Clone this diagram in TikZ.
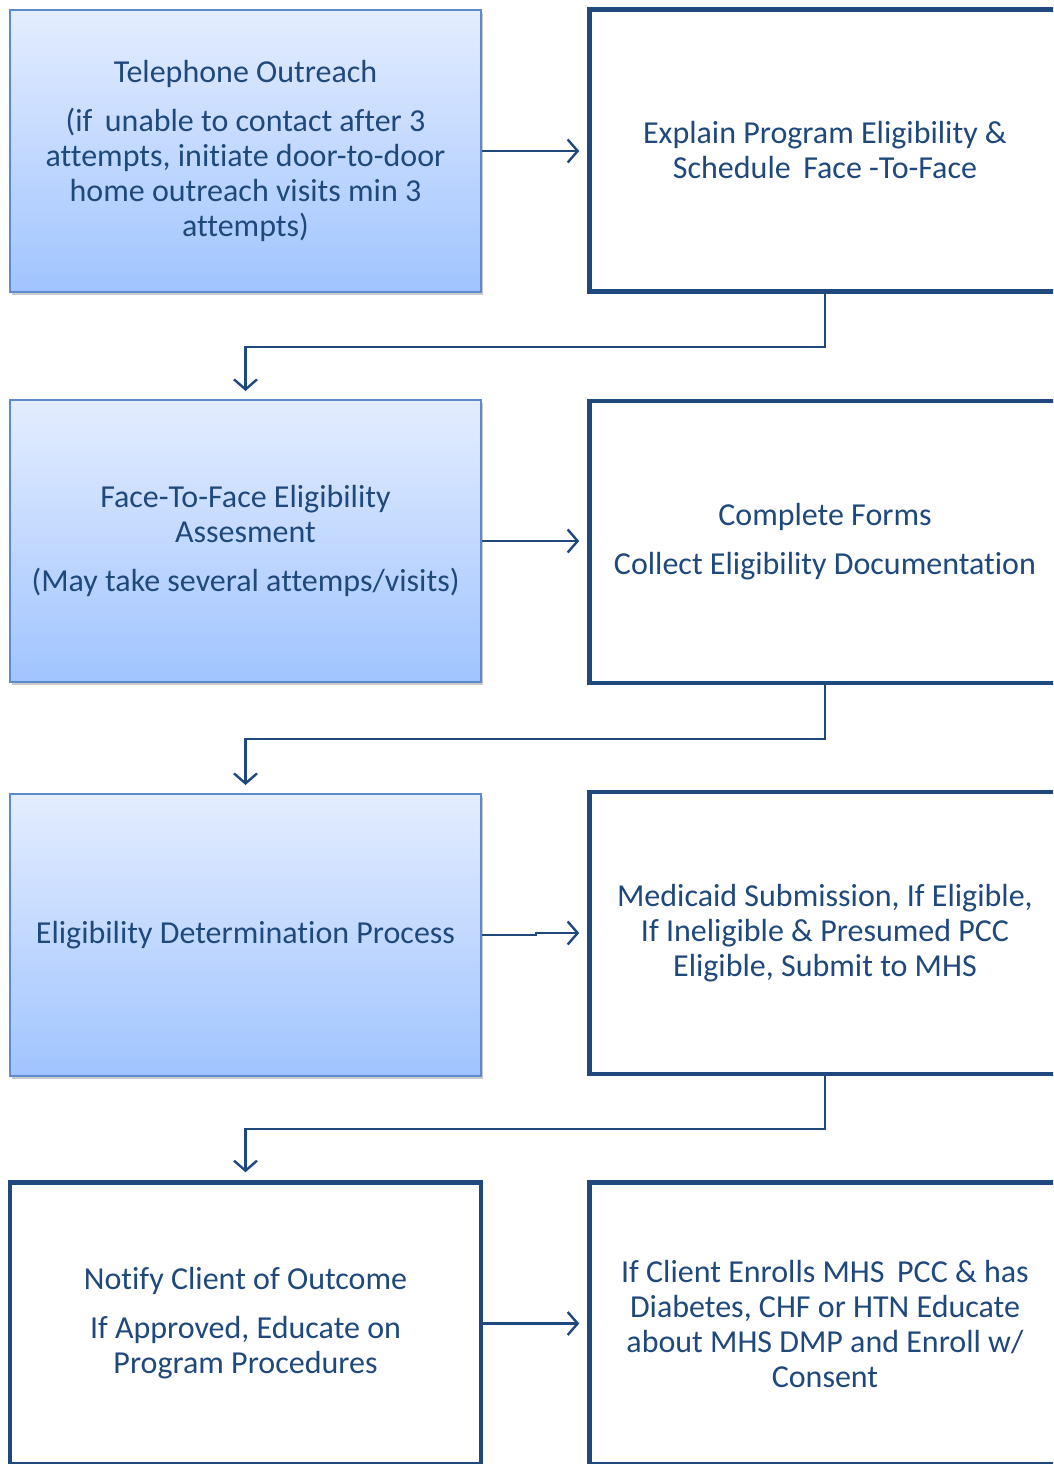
\documentclass[tikz,border=0pt]{standalone}
\usepackage{fontspec}
\setmainfont[Ligatures={NoCommon}]{Carlito}
\usetikzlibrary{arrows.meta,shadows}
\definecolor{navy}{RGB}{31,73,125}
\definecolor{textblue}{RGB}{31,73,125}
\definecolor{softedge}{RGB}{92,138,204}
\definecolor{gradtop}{RGB}{228,237,255}
\definecolor{gradbot}{RGB}{160,196,255}
\tikzset{
  box/.style={rectangle, inner sep=0pt, minimum width=471pt, minimum height=282pt,
    align=center, text=textblue, font=\fontsize{32}{35}\selectfont},
  softbox/.style={box, draw=softedge, line width=2pt, top color=gradtop, bottom color=gradbot,
    drop shadow={shadow xshift=2pt, shadow yshift=-3pt, opacity=0.35, fill=black!60}},
  hardbox/.style={box, draw=navy, line width=4.5pt, fill=white},
  conn/.style={draw=navy, line width=2.4pt, -{Straight Barb[length=10pt,width=23pt,line width=2.4pt]}, shorten >=8pt},
}
\begin{document}
\begin{tikzpicture}[x=1pt,y=1pt]
\useasboundingbox (0,0) rectangle (1053,-1464);
\clip (0,0) rectangle (1053,-1464);

% left column
\node[softbox] (b1) at (245.5,-151) {Telephone Outreach\\[14pt](if\, unable to contact after 3\\attempts, initiate door-to-door\\home outreach visits min 3\\attempts)};
\node[softbox] (b3) at (245.5,-541) {Face-To-Face Eligibility\\Assesment\\[14pt](May take several attemps/visits)};
\node[softbox] (b5) at (245.5,-935) {Eligibility Determination Process};
\node[hardbox] (b7) at (245.5,-1323.5) {Notify Client of Outcome\\[14pt]If Approved, Educate on\\Program Procedures};

% right column
\node[hardbox] (b2) at (825,-150.5) {Explain Program Eligibility \&\\Schedule\, Face -To-Face};
\node[hardbox] (b4) at (825,-542) {Complete Forms\\[14pt]Collect Eligibility Documentation};
\node[hardbox] (b6) at (825,-933) {Medicaid Submission, If Eligible,\\If Ineligible \& Presumed PCC\\Eligible, Submit to MHS};
\node[hardbox] (b8) at (825,-1323.5) {If Client Enrolls MHS\, PCC \& has\\Diabetes, CHF or HTN Educate\\about MHS DMP and Enroll w/\\Consent};

% horizontal steps
\draw[conn] (b1.east) -- (b1.east -| b2.west);
\draw[conn] (b3.east) -- (b3.east -| b4.west);
\draw[conn] (b5.east) -- ++(54,0) |- (b6.west);
\draw[conn] (b7.east) -- (b7.east -| b8.west);

% return connectors to the next row
\draw[conn] (b2.south) -- ++(0,-53) -| (b3.north);
\draw[conn] (b4.south) -- ++(0,-54) -| (b5.north);
\draw[conn] (b6.south) -- ++(0,-53) -| (b7.north);
\end{tikzpicture}
\end{document}
